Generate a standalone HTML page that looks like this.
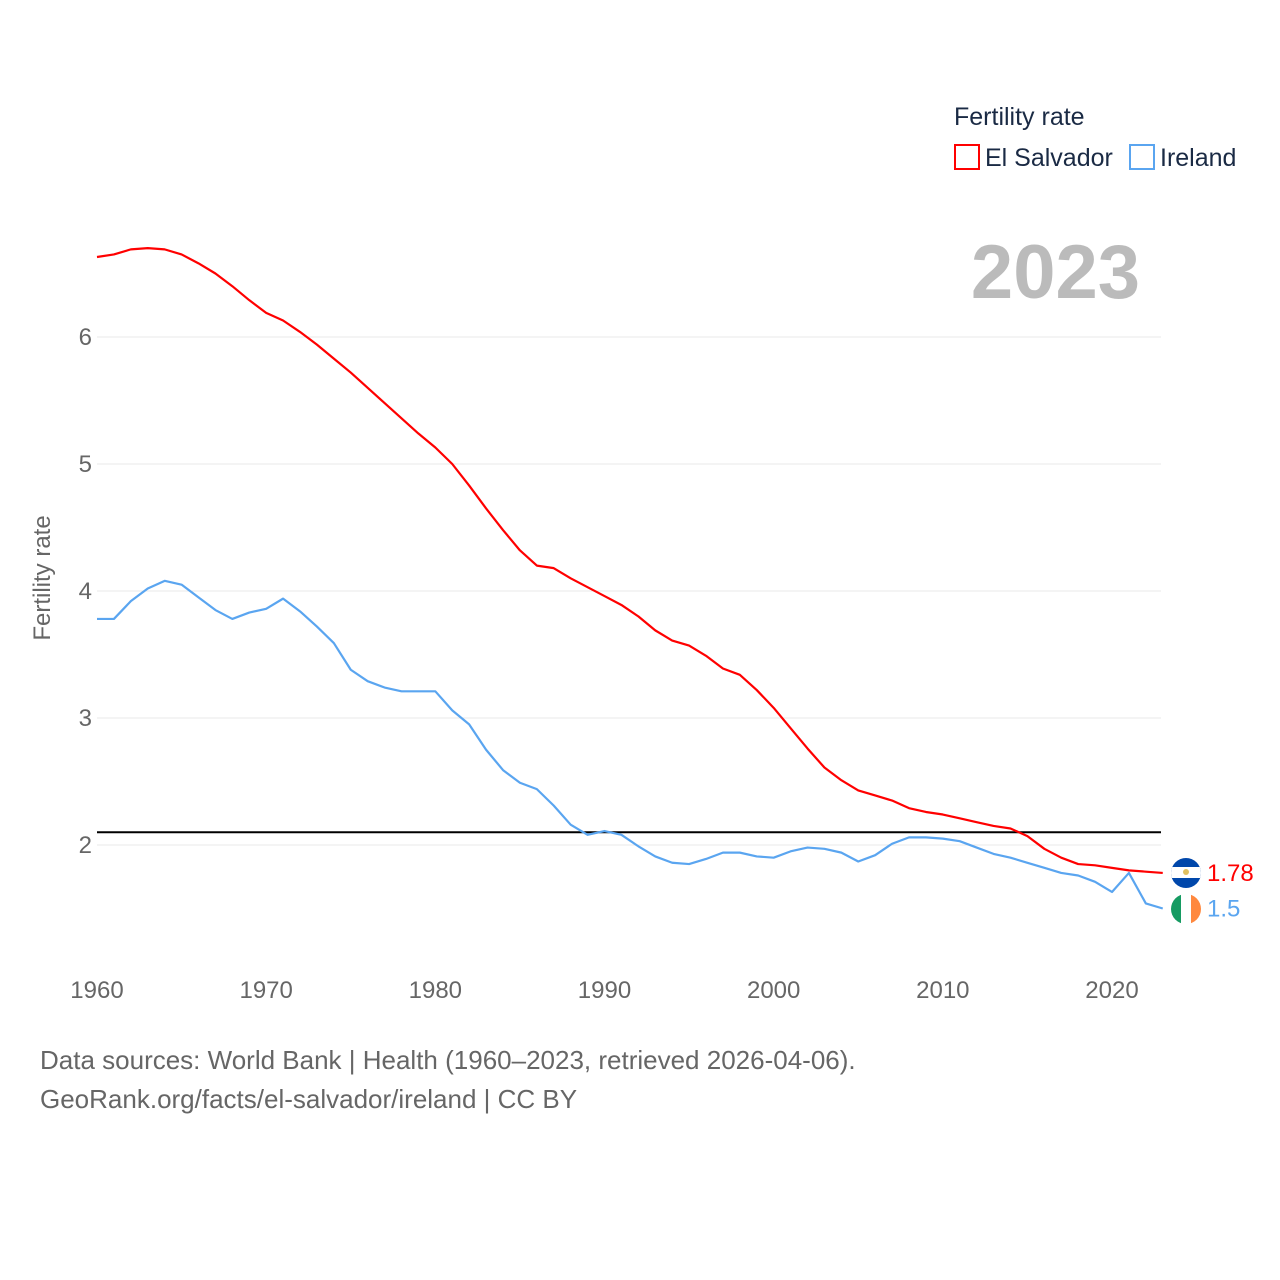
<!DOCTYPE html>
<html><head><meta charset="utf-8"><style>
html,body{margin:0;padding:0;background:#fff;width:1280px;height:1280px;overflow:hidden;font-family:"Liberation Sans",sans-serif}
svg text{font-family:"Liberation Sans",sans-serif}
</style></head><body>
<svg id="chart" width="1280" height="1280" viewBox="0 0 1280 1280" xmlns="http://www.w3.org/2000/svg">
<g id="grid"></g>
<g id="ticks"></g>
<text transform="translate(50,578) rotate(-90)" text-anchor="middle" font-size="24" fill="#666">Fertility rate</text>
<text x="1140" y="298" text-anchor="end" font-size="76" font-weight="bold" fill="#bbb">2023</text>
<g>
<text x="954" y="125" font-size="25" fill="#1a2a44">Fertility rate</text>
<g><rect x="955" y="145" width="24" height="24" fill="none" stroke="#f00" stroke-width="2"/><text x="985" y="166" font-size="25" fill="#1a2a44">El Salvador</text></g>
<g><rect x="1130" y="145" width="24" height="24" fill="none" stroke="#5aa5f0" stroke-width="2"/><text x="1160" y="166" font-size="25" fill="#1a2a44">Ireland</text></g>
</g>
<g id="series"></g>
<g>
<clipPath id="c1"><circle cx="1186" cy="873" r="15"/></clipPath>
<g clip-path="url(#c1)"><rect x="1170" y="857" width="32" height="32" fill="#0047ab"/><rect x="1170" y="867" width="32" height="11" fill="#fff"/><circle cx="1186" cy="872" r="3" fill="#e0c060"/></g>
</g>
<g>
<clipPath id="c2"><circle cx="1186" cy="909" r="15"/></clipPath>
<g clip-path="url(#c2)"><rect x="1170" y="893" width="11" height="32" fill="#169b62"/><rect x="1181" y="893" width="10" height="32" fill="#fff"/><rect x="1191" y="893" width="12" height="32" fill="#ff883e"/></g>
</g>
<text x="40" y="1069" font-size="26" fill="#666">Data sources: World Bank | Health (1960–2023, retrieved 2026-04-06).</text>
<text x="40" y="1108" font-size="26" fill="#666">GeoRank.org/facts/el-salvador/ireland | CC BY</text>
</svg>
<script>
const years = Array.from({length:64},(_,i)=>1960+i);
const elSalvador = [6.63,6.65,6.69,6.70,6.69,6.65,6.58,6.50,6.40,6.29,6.19,6.13,6.04,5.94,5.83,5.72,5.60,5.48,5.36,5.24,5.13,5.00,4.83,4.65,4.48,4.32,4.20,4.18,4.10,4.03,3.96,3.89,3.80,3.69,3.61,3.57,3.49,3.39,3.34,3.22,3.08,2.92,2.76,2.61,2.51,2.43,2.39,2.35,2.29,2.26,2.24,2.21,2.18,2.15,2.13,2.07,1.97,1.90,1.85,1.84,1.82,1.80,1.79,1.78];
const ireland = [3.78,3.78,3.92,4.02,4.08,4.05,3.95,3.85,3.78,3.83,3.86,3.94,3.84,3.72,3.59,3.38,3.29,3.24,3.21,3.21,3.21,3.06,2.95,2.75,2.59,2.49,2.44,2.31,2.16,2.08,2.11,2.08,1.99,1.91,1.86,1.85,1.89,1.94,1.94,1.91,1.90,1.95,1.98,1.97,1.94,1.87,1.92,2.01,2.06,2.06,2.05,2.03,1.98,1.93,1.90,1.86,1.82,1.78,1.76,1.71,1.63,1.78,1.54,1.50];
const yTicks = [2,3,4,5,6];
const xTicks = [1960,1970,1980,1990,2000,2010,2020];
const replacement = 2.1;
const NS="http://www.w3.org/2000/svg";
const xs = y => 97 + (y-1960)*(1112-97)/60;
const ys = v => 845 - (v-2)*127;
function mk(tag,attrs,parent){const e=document.createElementNS(NS,tag);for(const k in attrs)e.setAttribute(k,attrs[k]);parent.appendChild(e);return e;}
const grid=document.getElementById('grid'), ticks=document.getElementById('ticks'), series=document.getElementById('series');
yTicks.forEach(v=>{
  const l=mk('line',{x1:97,x2:1161,y1:ys(v),y2:ys(v),stroke:'#e8e8e8','stroke-width':1},grid);
  
  
  const t=mk('text',{x:92,y:ys(v)+8,'text-anchor':'end','font-size':24,fill:'#666'},ticks);
  t.textContent=v;
  
  
});
xTicks.forEach(y=>{
  const t=mk('text',{x:xs(y),y:998,'text-anchor':'middle','font-size':24,fill:'#666'},ticks);
  t.textContent=y;
  
  
});
const rl=mk('line',{x1:97,x2:1161,y1:ys(replacement),y2:ys(replacement),stroke:'#000','stroke-width':2},series);


function line(data,color,name){
  const p=mk('polyline',{points:data.map((v,i)=>xs(years[i])+','+ys(v)).join(' '),fill:'none',stroke:color,'stroke-width':2.2,'stroke-linejoin':'round'},series);
  
  
  const last=data[data.length-1];
  const t=mk('text',{x:1207,y:ys(last)+8,'font-size':24,fill:color},series);
  t.textContent=last;
  
  
}
line(ireland,'#5aa5f0','line-ireland');
line(elSalvador,'#f00','line-el-salvador');
</script>
</body></html>
